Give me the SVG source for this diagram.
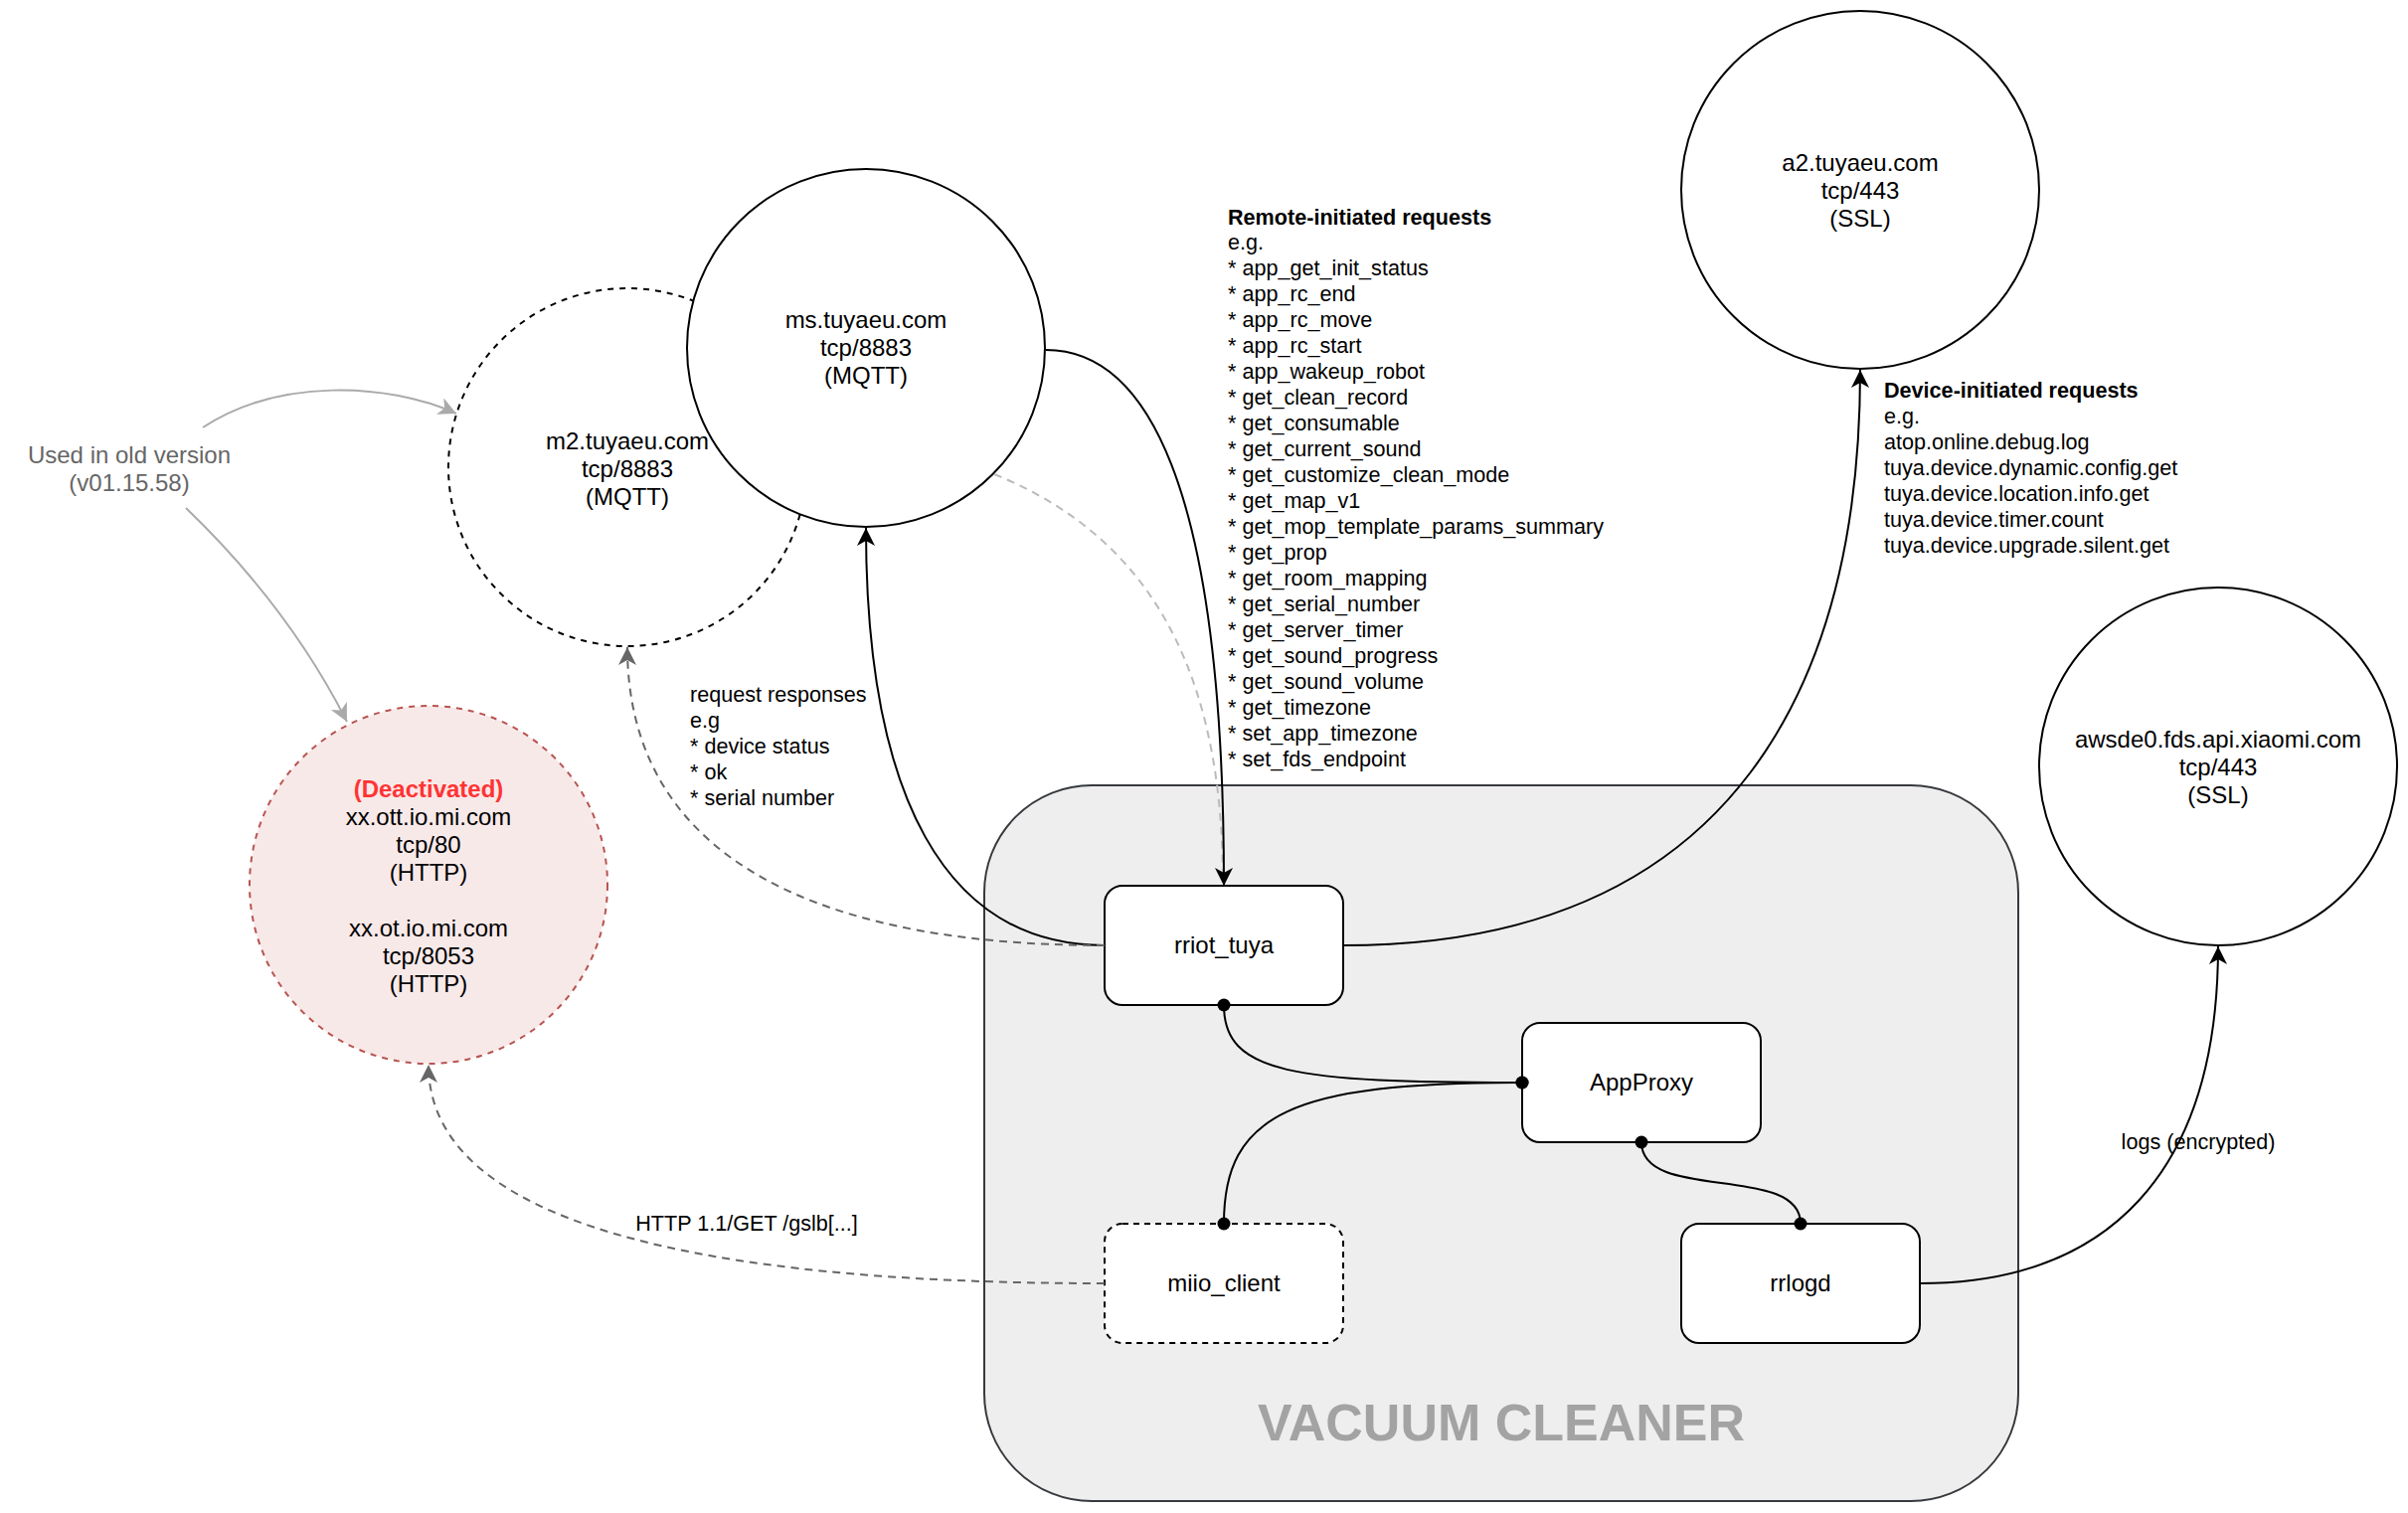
<svg xmlns="http://www.w3.org/2000/svg" width="2422" height="1522" viewBox="0 0 2422 1522">
<style>
text{font-family:"Liberation Sans",Arial,Helvetica,sans-serif;fill:#000}
.nl{font-size:24px;text-anchor:middle}
.sm{font-size:21.6px}
.b{font-weight:bold}
.circ{fill:#fff;stroke:#000;stroke-width:2}
.box{fill:#fff;stroke:#000;stroke-width:2}
.e{fill:none;stroke-width:2}
.blk{stroke:#000}
.dg{stroke:#666;stroke-dasharray:8 6}
.lg{stroke:#aaa}
.lgd{stroke:#bbb;stroke-dasharray:8 6}
</style>
<defs>
<marker id="ab" markerUnits="userSpaceOnUse" markerWidth="20" markerHeight="20" refX="18" refY="9" orient="auto"><path d="M18,9 L0,0 L5,9 L0,18 Z" fill="#000"/></marker>
<marker id="ag" markerUnits="userSpaceOnUse" markerWidth="20" markerHeight="20" refX="18" refY="9" orient="auto"><path d="M18,9 L0,0 L5,9 L0,18 Z" fill="#666"/></marker>
<marker id="al" markerUnits="userSpaceOnUse" markerWidth="20" markerHeight="20" refX="18" refY="9" orient="auto"><path d="M18,9 L0,0 L5,9 L0,18 Z" fill="#aaa"/></marker>
<marker id="dot" markerUnits="userSpaceOnUse" markerWidth="18" markerHeight="18" refX="9" refY="9" orient="auto"><circle cx="9" cy="9" r="6.5" fill="#000"/></marker>
</defs>

<g id="vacuum-cleaner">
<rect x="990" y="790" width="1040" height="720" rx="108" ry="108" fill="#eeeeee" stroke="#36393d" stroke-width="2"/>
<text x="1510" y="1449" text-anchor="middle" font-size="52" font-weight="bold" style="fill:#a3a3a3">VACUUM CLEANER</text>
</g>

<g id="m2-tuyaeu">
<circle cx="631" cy="470" r="180" fill="#fff" stroke="#000" stroke-width="2" stroke-dasharray="6 6"/>
</g>

<g id="ms-tuyaeu">
<circle class="circ" cx="871" cy="350" r="180"/>
<text class="nl" x="871" y="330">ms.tuyaeu.com</text>
<text class="nl" x="871" y="358">tcp/8883</text>
<text class="nl" x="871" y="386">(MQTT)</text>
</g>

<g id="m2-tuyaeu-label">
<text class="nl" x="631" y="452">m2.tuyaeu.com</text>
<text class="nl" x="631" y="480">tcp/8883</text>
<text class="nl" x="631" y="508">(MQTT)</text>
</g>

<g id="a2-tuyaeu">
<circle class="circ" cx="1871" cy="191" r="180"/>
<text class="nl" x="1871" y="172">a2.tuyaeu.com</text>
<text class="nl" x="1871" y="200">tcp/443</text>
<text class="nl" x="1871" y="228">(SSL)</text>
</g>

<g id="awsde0-xiaomi">
<circle class="circ" cx="2231" cy="771" r="180"/>
<text class="nl" x="2231" y="752">awsde0.fds.api.xiaomi.com</text>
<text class="nl" x="2231" y="780">tcp/443</text>
<text class="nl" x="2231" y="808">(SSL)</text>
</g>

<g id="mi-deactivated">
<circle cx="431" cy="890" r="180" fill="#f8e9e9" stroke="#b85450" stroke-width="2" stroke-dasharray="6 6"/>
<text class="nl b" x="431" y="802" style="fill:#ff3333">(Deactivated)</text>
<text class="nl" x="431" y="830">xx.ott.io.mi.com</text>
<text class="nl" x="431" y="858">tcp/80</text>
<text class="nl" x="431" y="886">(HTTP)</text>
<text class="nl" x="431" y="942">xx.ot.io.mi.com</text>
<text class="nl" x="431" y="970">tcp/8053</text>
<text class="nl" x="431" y="998">(HTTP)</text>
</g>

<g id="old-version-note">
<text class="nl" x="130" y="466" style="fill:#666">Used in old version</text>
<text class="nl" x="130" y="494" style="fill:#666">(v01.15.58)</text>
</g>

<g id="rriot-tuya">
<rect class="box" x="1111" y="891" width="240" height="120" rx="18" ry="18"/>
<text class="nl" x="1231" y="959">rriot_tuya</text>
</g>
<g id="appproxy">
<rect class="box" x="1531" y="1029" width="240" height="120" rx="18" ry="18"/>
<text class="nl" x="1651" y="1097">AppProxy</text>
</g>
<g id="miio-client">
<rect class="box" x="1111" y="1231" width="240" height="120" rx="18" ry="18" stroke-dasharray="6 5"/>
<text class="nl" x="1231" y="1299">miio_client</text>
</g>
<g id="rrlogd">
<rect class="box" x="1691" y="1231" width="240" height="120" rx="18" ry="18"/>
<text class="nl" x="1811" y="1299">rrlogd</text>
</g>

<g id="connectors">
<path class="e lg" d="M204,430 C280,380 390,385 459,416" marker-end="url(#al)"/>
<path class="e lg" d="M187,511 Q290,610 349,726" marker-end="url(#al)"/>
<path class="e lgd" d="M1000,477 C1130,530 1230,640 1230,888"/>
<path class="e blk" d="M1052,352 C1150,352 1231,480 1231,891" marker-end="url(#ab)"/>
<path class="e blk" d="M1111,951 C950,951 871,800 871,531" marker-end="url(#ab)"/>
<path class="e dg" d="M1111,951 C800,951 631,850 631,651" marker-end="url(#ag)"/>
<path class="e blk" d="M1351,951 C1750,951 1871,680 1871,372" marker-end="url(#ab)"/>
<path class="e dg" d="M1111,1291 C700,1291 431,1230 431,1071" marker-end="url(#ag)"/>
<path class="e blk" d="M1931,1291 C2120,1291 2231,1180 2231,952" marker-end="url(#ab)"/>
<path class="e blk" d="M1231,1011 C1231,1080 1300,1089 1531,1089" marker-start="url(#dot)" marker-end="url(#dot)"/>
<path class="e blk" d="M1531,1089 C1300,1089 1231,1120 1231,1231" marker-start="url(#dot)" marker-end="url(#dot)"/>
<path class="e blk" d="M1651,1149 C1651,1210 1811,1170 1811,1231" marker-start="url(#dot)" marker-end="url(#dot)"/>
</g>

<g id="edge-labels">
<text class="sm" x="1235" y="225.5"><tspan class="b">Remote-initiated requests</tspan><tspan x="1235" dy="25.96">e.g.</tspan><tspan x="1235" dy="25.96">* app_get_init_status</tspan><tspan x="1235" dy="25.96">* app_rc_end</tspan><tspan x="1235" dy="25.96">* app_rc_move</tspan><tspan x="1235" dy="25.96">* app_rc_start</tspan><tspan x="1235" dy="25.96">* app_wakeup_robot</tspan><tspan x="1235" dy="25.96">* get_clean_record</tspan><tspan x="1235" dy="25.96">* get_consumable</tspan><tspan x="1235" dy="25.96">* get_current_sound</tspan><tspan x="1235" dy="25.96">* get_customize_clean_mode</tspan><tspan x="1235" dy="25.96">* get_map_v1</tspan><tspan x="1235" dy="25.96">* get_mop_template_params_summary</tspan><tspan x="1235" dy="25.96">* get_prop</tspan><tspan x="1235" dy="25.96">* get_room_mapping</tspan><tspan x="1235" dy="25.96">* get_serial_number</tspan><tspan x="1235" dy="25.96">* get_server_timer</tspan><tspan x="1235" dy="25.96">* get_sound_progress</tspan><tspan x="1235" dy="25.96">* get_sound_volume</tspan><tspan x="1235" dy="25.96">* get_timezone</tspan><tspan x="1235" dy="25.96">* set_app_timezone</tspan><tspan x="1235" dy="25.96">* set_fds_endpoint</tspan></text>
<text class="sm" x="1895" y="399.5"><tspan class="b">Device-initiated requests</tspan><tspan x="1895" dy="26">e.g.</tspan><tspan x="1895" dy="26">atop.online.debug.log</tspan><tspan x="1895" dy="26">tuya.device.dynamic.config.get</tspan><tspan x="1895" dy="26">tuya.device.location.info.get</tspan><tspan x="1895" dy="26">tuya.device.timer.count</tspan><tspan x="1895" dy="26">tuya.device.upgrade.silent.get</tspan></text>
<text class="sm" x="694" y="705.5"><tspan>request responses</tspan><tspan x="694" dy="26">e.g</tspan><tspan x="694" dy="26">* device status</tspan><tspan x="694" dy="26">* ok</tspan><tspan x="694" dy="26">* serial number</tspan></text>
<text class="sm" x="751" y="1237.5" text-anchor="middle">HTTP 1.1/GET /gslb[...]</text>
<text class="sm" x="2211" y="1155.5" text-anchor="middle">logs (encrypted)</text>
</g>
</svg>
